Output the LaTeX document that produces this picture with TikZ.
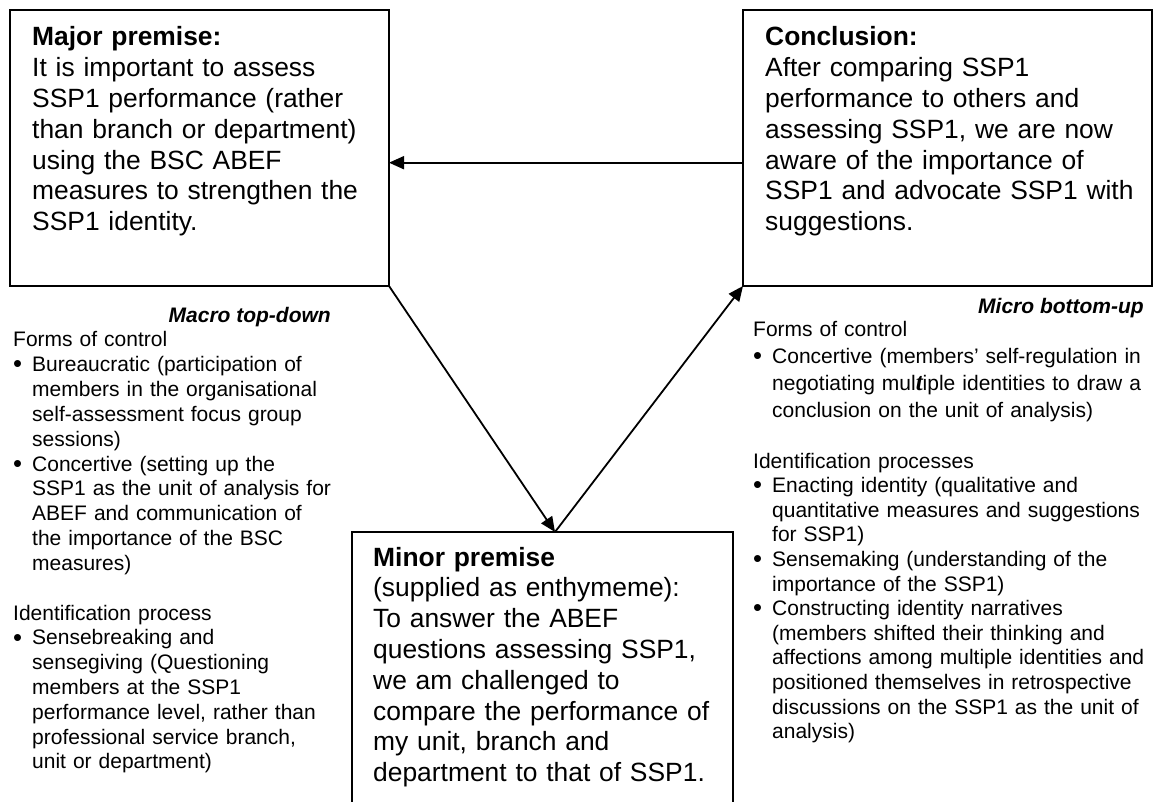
\documentclass[tikz,border=0pt]{standalone}
\usepackage{fontspec}
\setmainfont{Liberation Sans}
\newfontfamily\oddglyph{Liberation Serif}
\usetikzlibrary{arrows.meta}

% bullet and hanging indent for the side lists
\newcommand\itm{\makebox[19pt][l]{\raisebox{-1.2pt}{\scalebox{1.22}{\textbullet}}}}
\newcommand\hng{\hspace*{19pt}}

\begin{document}
\begin{tikzpicture}[x=1pt,y=-1pt,
  box/.style={draw, line width=1.8pt, inner sep=0pt, outer sep=0pt, anchor=north west},
  boxtext/.style={anchor=base west, inner sep=0pt, align=left, text width=420pt,
    font=\fontsize{26.4}{30.8}\selectfont},
  sidetext/.style={anchor=base west, inner sep=0pt, align=left, text width=420pt,
    font=\fontsize{21}{24.8}\selectfont},
  sidehead/.style={anchor=base east, inner sep=0pt,
    font=\fontsize{21}{24.8}\selectfont\bfseries\itshape},
  link/.style={line width=1.8pt, -{Triangle[length=15pt,width=13pt]}}]

\useasboundingbox (0,0) rectangle (1154,802);
\fill[white] (0,0) rectangle (1154,802);
\clip (0,0) rectangle (1154,802);

% the three premises / conclusion boxes
\node[box, minimum width=379pt, minimum height=276pt] (major) at (10,10) {};
\node[box, minimum width=409pt, minimum height=276pt] (conc) at (743,10) {};
\node[box, minimum width=381pt, minimum height=300pt] (minor) at (352,532) {};

\node[boxtext] (majort) at (32,46) {\textbf{Major premise:}\\
It is important to assess\\
SSP1 performance (rather\\
than branch or department)\\
using the BSC ABEF\\
measures to strengthen the\\
SSP1 identity.};

\node[boxtext] (conct) at (765,46) {\textbf{Conclusion:}\\
After comparing SSP1\\
performance to others and\\
assessing SSP1, we are now\\
aware of the importance of\\
SSP1 and advocate SSP1 with\\
suggestions.};

\node[boxtext] (minort) at (373,566) {\textbf{Minor premise}\\
(supplied as enthymeme):\\
To answer the ABEF\\
questions assessing SSP1,\\
we am challenged to\\
compare the performance of\\
my unit, branch and\\
department to that of SSP1.};

% connectors
\draw[link] ([yshift=-14.7pt]conc.west) -- ([yshift=-14.7pt]major.east);
\draw[link] (major.south east) -- ([xshift=12.5pt]minor.north);
\draw[link] ([xshift=12.5pt]minor.north) -- (conc.south west);

% left annotations
\node[sidehead] (macro) at (331,323) {Macro top-down};
\node[sidetext] (lfc) at (13,347) {Forms of control\\
\itm Bureaucratic (participation of\\
\hng members in the organisational\\
\hng self-assessment focus group\\
\hng sessions)\\
\itm Concertive (setting up the\\
\hng SSP1 as the unit of analysis for\\
\hng ABEF and communication of\\
\hng the importance of the BSC\\
\hng measures)};
\node[sidetext] (lid) at (13,620) {Identification process\\
\itm Sensebreaking and\\
\hng sensegiving (Questioning\\
\hng members at the SSP1\\
\hng performance level, rather than\\
\hng professional service branch,\\
\hng unit or department)};

% right annotations
\node[sidehead] (micro) at (1144,313) {Micro bottom-up};
\node[sidetext, font=\fontsize{21}{26.7}\selectfont] (rfc) at (753,337) {Forms of control\\
\itm Concertive (members’ self-regulation in\\
\hng negotiating mul{\oddglyph\fontsize{25}{26.7}\selectfont\itshape\bfseries t}iple identities to draw a\\
\hng conclusion on the unit of analysis)};
\node[sidetext, font=\fontsize{21}{24.6}\selectfont] (rid) at (753,468) {Identification processes\\
\itm Enacting identity (qualitative and\\
\hng quantitative measures and suggestions\\
\hng for SSP1)\\
\itm Sensemaking (understanding of the\\
\hng importance of the SSP1)\\
\itm Constructing identity narratives\\
\hng (members shifted their thinking and\\
\hng affections among multiple identities and\\
\hng positioned themselves in retrospective\\
\hng discussions on the SSP1 as the unit of\\
\hng analysis)};
\end{tikzpicture}
\end{document}
